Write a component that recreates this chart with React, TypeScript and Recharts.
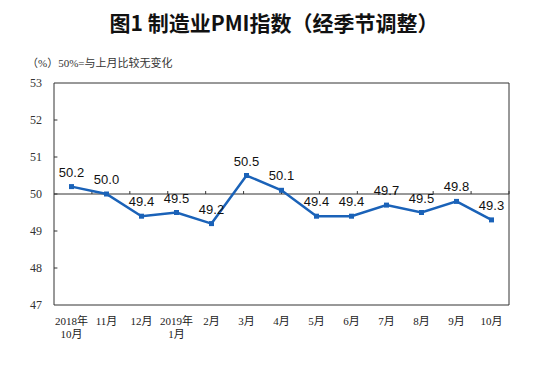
import React from "react";
import {
  LineChart, Line, XAxis, YAxis, ReferenceLine, ReferenceArea, LabelList,
} from "recharts";

// ─── data ─────────────────────────────────────────────────────────────────────
const MONTHS = [
  "2018年\n10月", "11月", "12月", "2019年\n1月", "2月", "3月", "4月",
  "5月", "6月", "7月", "8月", "9月", "10月",
];
const PMI = [50.2, 50.0, 49.4, 49.5, 49.2, 50.5, 50.1, 49.4, 49.4, 49.7, 49.5, 49.8, 49.3];
const Y_TICKS = [47, 48, 49, 50, 51, 52, 53];

const data = MONTHS.map((m, i) => ({ m, v: PMI[i] }));
// band boundaries between the months, for the little ticks on the 50 line
const BOUNDS = MONTHS.slice(1).map((_, i) => i + 1);

const BLUE = "#1a62b8";
const AXIS = "#333";
const SERIF = "'Liberation Serif', 'Noto Sans CJK SC', serif";

function MonthTick(props: any) {
  const { x, y, payload } = props;
  const lines = String(payload.value).split("\n");
  return (
    <text x={x} y={y} textAnchor="middle" fontSize={11} fontFamily={SERIF} fill="#222">
      {lines.map((l, i) => (
        <tspan key={i} x={x} dy={i === 0 ? "0.71em" : 13}>{l}</tspan>
      ))}
    </text>
  );
}

function SquareDot(props: any) {
  const { cx, cy, index } = props;
  return <rect key={index} x={cx - 2.5} y={cy - 2.5} width={5} height={5} fill={BLUE} />;
}

export default function App() {
  return (
    <div style={{ position: "absolute", left: 0, top: 0, width: 548, height: 365, background: "#fff" }}>
      <div style={{
        position: "absolute", left: 0, top: 8, width: 548, textAlign: "center",
        fontFamily: "'Noto Sans CJK SC', sans-serif", fontWeight: 700, fontSize: 21,
        lineHeight: "28px", color: "#111",
      }}>
        图1 制造业PMI指数（经季节调整）
      </div>
      <div style={{
        position: "absolute", left: 27, top: 55, fontFamily: SERIF, fontSize: 11,
        lineHeight: "16px", color: "#333",
      }}>
        （%）50%=与上月比较无变化
      </div>
      <div style={{ position: "absolute", left: 0, top: 0 }}>
        <LineChart width={548} height={365} data={data}
          margin={{ top: 83, right: 39, left: 0, bottom: 20 }}>
          <XAxis dataKey="m" scale="band" interval={0} axisLine={false} tickLine={false}
            tickSize={0} tickMargin={12} height={40} tick={<MonthTick />} />
          <XAxis xAxisId="num" type="number" domain={[0, 13]} hide />
          <YAxis domain={[47, 53]} ticks={Y_TICKS} width={54} axisLine={false} tickLine={false}
            tickSize={0} tickMargin={12} interval={0}
            tick={{ fontSize: 12, fontFamily: SERIF, fill: "#333" }} />
          <ReferenceArea y1={47} y2={53} fill="none" stroke={AXIS} strokeWidth={1} ifOverflow="visible" />
          <ReferenceLine y={50} stroke={AXIS} strokeWidth={1} />
          {BOUNDS.map((b) => (
            <ReferenceLine key={"b" + b} xAxisId="num" stroke={AXIS}
              segment={[{ x: b, y: 50 }, { x: b, y: 50.08 }]} />
          ))}
          {Y_TICKS.slice(1, -1).map((t) => (
            <ReferenceLine key={"t" + t} xAxisId="num" stroke={AXIS}
              segment={[{ x: 0, y: t }, { x: 0.09, y: t }]} />
          ))}
          <Line type="linear" dataKey="v" stroke={BLUE} strokeWidth={2.5}
            dot={<SquareDot />} activeDot={false} isAnimationActive={false}>
            <LabelList dataKey="v" position="top" offset={10} fontSize={13}
              fontFamily="'Liberation Sans', Arial, sans-serif" fill="#111"
              formatter={(v: any) => Number(v).toFixed(1)} />
          </Line>
        </LineChart>
      </div>
    </div>
  );
}
